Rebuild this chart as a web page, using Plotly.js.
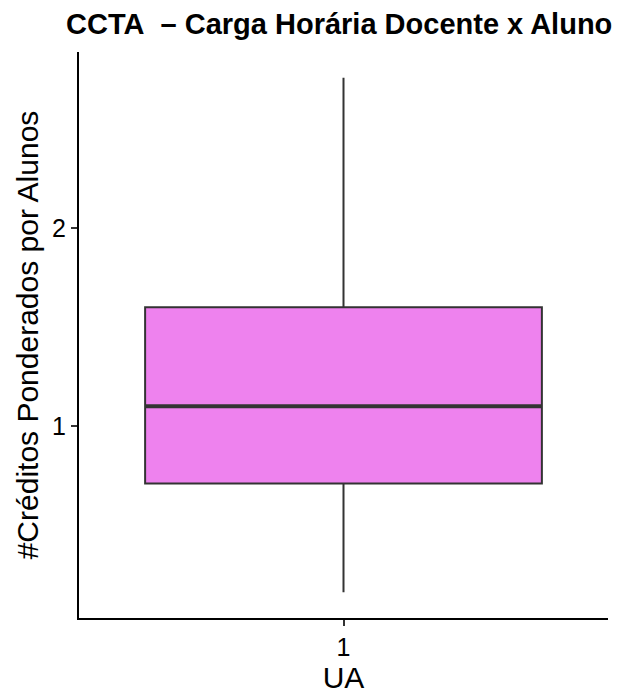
<!DOCTYPE html>
<html>
<head>
<meta charset="utf-8">
<script src="https://cdn.plot.ly/plotly-3.0.1.min.js"></script>
<style>
  body { margin: 0; background: #fff; }
  #chart { width: 640px; height: 694px; }
</style>
</head>
<body>
<div id="chart"></div>
<script>
// box summary
var groups = ['1'];
var lowerWhisker = [0.16];
var q1 = [0.71];
var median = [1.10];
var q3 = [1.60];
var upperWhisker = [2.76];
var yTicks = [1, 2];

var box = {
  type: 'box',
  x: groups,
  q1: q1,
  median: median,
  q3: q3,
  lowerfence: lowerWhisker,
  upperfence: upperWhisker,
  width: 0.9,
  whiskerwidth: 0,
  fillcolor: '#EE82EE',
  line: {color: '#333333', width: 2},
  boxpoints: false,
  hoverinfo: 'skip',
  showlegend: false
};

// thicker median bar, like ggplot
var medianLine = {
  type: 'line',
  xref: 'x', yref: 'y',
  x0: -0.45, x1: 0.45,
  y0: median[0], y1: median[0],
  line: {color: '#333333', width: 4},
  layer: 'above'
};

var lo = lowerWhisker[0], hi = upperWhisker[0];
var pad = (hi - lo) * 0.05;

var layout = {
  width: 640,
  height: 694,
  margin: {l: 79, r: 32, t: 52, b: 76},
  paper_bgcolor: '#fff',
  plot_bgcolor: '#fff',
  font: {family: 'Liberation Sans, Arial, sans-serif', color: '#000'},
  title: {
    text: 'CCTA\u00a0 \u2013 Carga Horária Docente x Aluno',
    font: {size: 29, color: '#000', family: 'Liberation Sans, Arial, sans-serif', weight: 'bold'},
    x: 0.53, xanchor: 'center',
    y: 0.966, yanchor: 'middle'
  },
  xaxis: {
    type: 'category',
    range: [-0.6, 0.6],
    showline: true, linecolor: '#000', linewidth: 2,
    ticks: 'outside', ticklen: 6, tickwidth: 2, tickcolor: '#333333',
    tickfont: {size: 25, color: '#000'},
    showgrid: false, zeroline: false,
    title: {text: 'UA', font: {size: 30, color: '#000'}, standoff: 3}
  },
  yaxis: {
    range: [lo - pad, hi + pad],
    tickvals: yTicks,
    ticktext: yTicks.map(String),
    showline: true, linecolor: '#000', linewidth: 2,
    ticks: 'outside', ticklen: 6, tickwidth: 2, tickcolor: '#333333',
    tickfont: {size: 25, color: '#000'},
    showgrid: false, zeroline: false,
    title: {text: '#Créditos Ponderados por Alunos', font: {size: 30, color: '#000'}, standoff: 5}
  },
  shapes: [medianLine]
};

Plotly.newPlot('chart', [box], layout, {displayModeBar: false, staticPlot: true});
</script>
</body>
</html>
